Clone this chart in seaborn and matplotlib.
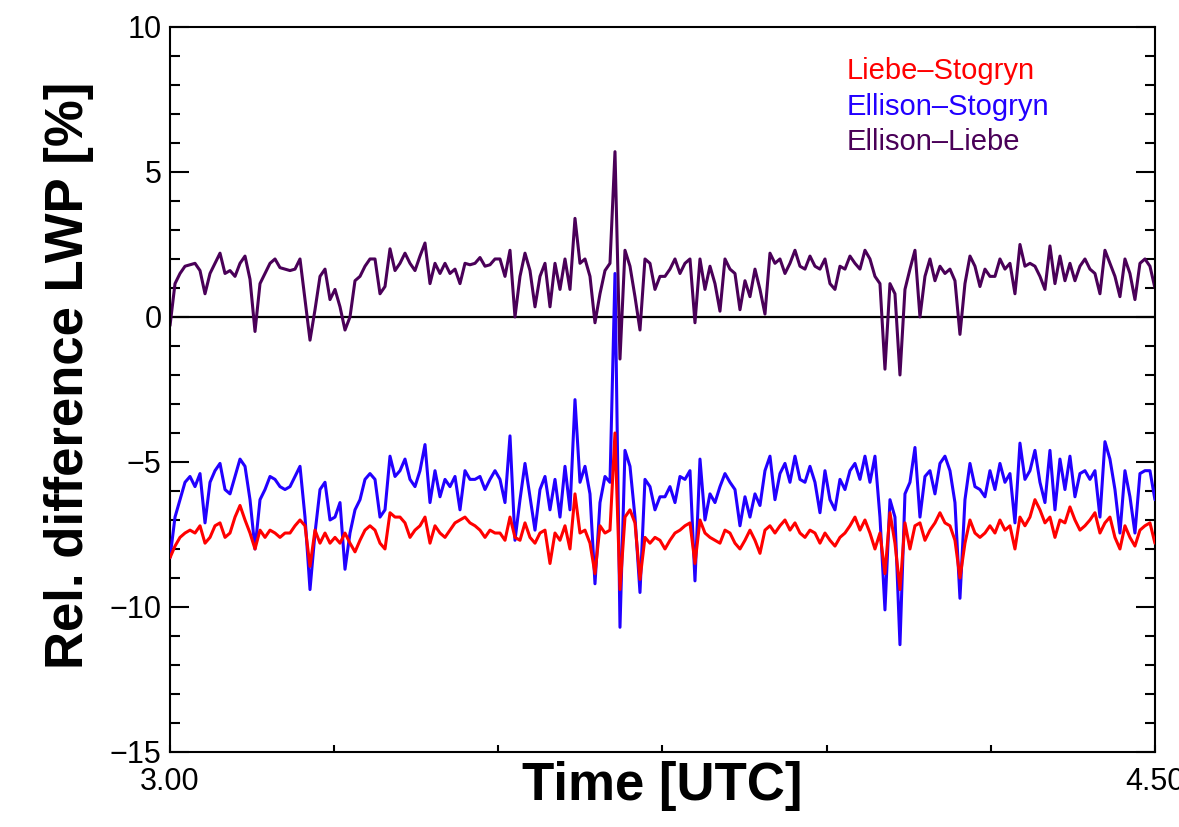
import matplotlib
matplotlib.use("Agg")
import matplotlib.pyplot as plt
import seaborn as sns
import pandas as pd
import numpy as np
from matplotlib.ticker import MultipleLocator

# Relative LWP differences, one value every ~0.0076 h
time = np.linspace(3.0, 4.5, 198)

ellison_liebe = [
    -0.3, 1.15, 1.5, 1.75, 1.8, 1.85, 1.6, 0.8, 1.5, 1.85, 2.2, 1.5, 1.6, 1.4, 1.85, 2.1, 1.3,
    -0.5, 1.15, 1.5, 1.85, 2.0, 1.7, 1.65, 1.6, 1.65, 2.0, 0.6, -0.8, 0.25, 1.4, 1.65, 0.6,
    0.95, 0.35, -0.45, 0.0, 1.25, 1.4, 1.75, 2.0, 2.0, 0.8, 1.05, 2.35, 1.6, 1.85, 2.2, 1.85,
    1.6, 2.1, 2.55, 1.15, 1.85, 1.5, 1.85, 1.5, 1.65, 1.15, 1.85, 1.8, 1.85, 2.05, 1.75, 1.8, 2.0,
    2.0, 1.4, 2.3, 0.0, 1.4, 2.2, 1.6, 0.35, 1.4, 1.85, 0.35, 1.85, 0.95, 2.0, 0.95, 3.4, 1.85,
    2.0, 1.4, -0.2, 0.8, 1.6, 1.85, 5.7, -1.45, 2.3, 1.75, 0.7, -0.45, 2.0, 1.85, 0.95, 1.4,
    1.4, 1.65, 2.0, 1.5, 1.85, 2.0, -0.2, 2.0, 0.95, 1.75, 1.15, 0.2, 2.0, 1.65, 1.5, 0.25, 1.25,
    0.7, 1.65, 0.95, 0.1, 2.2, 1.85, 2.0, 1.5, 1.85, 2.3, 1.75, 1.65, 2.1, 1.75, 1.65, 2.0,
    1.15, 0.95, 1.75, 1.65, 2.1, 1.85, 1.65, 2.3, 2.0, 1.4, 1.15, -1.8, 1.15, 0.8, -2.0, 0.95, 1.65,
    2.3, 0.0, 1.4, 2.0, 1.25, 1.75, 1.5, 1.65, 1.25, -0.6, 1.15, 2.1, 1.75, 1.05, 1.65, 1.4,
    1.4, 2.0, 1.65, 1.85, 0.8, 2.5, 1.75, 1.85, 1.75, 1.4, 0.95, 2.45, 1.15, 2.1, 1.25, 1.85, 1.25,
    1.75, 2.0, 1.65, 1.5, 0.8, 2.3, 1.85, 1.4, 0.7, 2.0, 1.5, 0.6, 1.85, 2.0, 1.75, 1.0,
]

ellison_stogryn = [
    -8.3, -6.9, -6.3, -5.7, -5.5, -5.85, -5.4, -7.1, -5.7, -5.3, -5.05, -5.95, -6.1, -5.5, -4.9, -5.15, -6.3,
    -8.0, -6.3, -5.95, -5.5, -5.6, -5.85, -5.95, -5.85, -5.5, -5.15, -6.9, -9.4, -7.45, -5.95, -5.7, -7.0,
    -6.9, -6.4, -8.7, -7.45, -6.65, -6.3, -5.6, -5.4, -5.6, -6.9, -6.65, -4.8, -5.5, -5.3, -4.9, -5.6, -5.85,
    -5.3, -4.4, -6.4, -5.3, -6.2, -5.6, -5.85, -5.5, -6.65, -5.3, -5.6, -5.6, -5.5, -5.95, -5.6, -5.3,
    -5.6, -6.4, -4.1, -7.7, -6.3, -5.05, -6.2, -7.35, -5.95, -5.5, -6.65, -5.6, -6.9, -5.15, -6.65, -2.85, -5.7,
    -5.15, -6.1, -9.2, -6.4, -5.5, -5.7, 1.5, -10.7, -4.6, -5.15, -6.9, -9.5, -5.6, -5.85, -6.65, -6.2,
    -6.2, -5.85, -6.4, -5.5, -5.6, -5.3, -9.1, -4.9, -7.0, -6.1, -6.4, -5.85, -5.4, -5.7, -5.95, -7.2, -6.2,
    -6.9, -6.1, -6.5, -5.3, -4.8, -6.3, -5.4, -5.05, -5.7, -4.8, -5.6, -5.7, -5.15, -5.7, -6.75, -5.3,
    -6.3, -6.65, -5.6, -5.95, -5.3, -5.05, -5.6, -4.8, -5.7, -4.8, -6.9, -10.1, -6.3, -6.9, -11.3, -6.1, -5.7,
    -4.5, -6.9, -5.5, -5.3, -6.1, -5.05, -4.8, -5.3, -6.4, -9.7, -6.3, -5.05, -5.85, -5.95, -6.2, -5.3,
    -5.95, -5.05, -5.7, -5.4, -7.1, -4.35, -5.6, -5.3, -4.6, -5.7, -6.4, -4.6, -6.65, -4.9, -5.95, -4.8, -6.2,
    -5.4, -5.3, -5.6, -5.3, -6.9, -4.3, -4.9, -5.95, -7.45, -5.3, -6.2, -7.45, -5.4, -5.3, -5.3, -6.3,
]

liebe_stogryn = [
    -8.3, -7.9, -7.6, -7.45, -7.35, -7.45, -7.2, -7.8, -7.6, -7.2, -7.1, -7.6, -7.45, -6.9, -6.5, -7.0, -7.45,
    -8.0, -7.35, -7.6, -7.35, -7.45, -7.6, -7.45, -7.45, -7.2, -7.0, -7.2, -8.6, -7.35, -7.8, -7.45, -7.8,
    -7.6, -7.8, -7.45, -7.8, -8.1, -7.7, -7.35, -7.2, -7.35, -7.8, -8.0, -6.75, -6.9, -6.9, -7.1, -7.6, -7.35,
    -7.2, -6.9, -7.8, -7.2, -7.45, -7.6, -7.35, -7.1, -7.0, -6.9, -7.1, -7.2, -7.35, -7.6, -7.35, -7.45,
    -7.45, -7.7, -6.9, -7.6, -7.7, -7.1, -7.6, -7.8, -7.45, -7.35, -8.5, -7.45, -7.7, -7.2, -8.0, -6.1, -7.45,
    -7.35, -7.8, -8.85, -7.2, -7.45, -7.35, -4.0, -9.4, -6.9, -6.65, -7.1, -9.05, -7.6, -7.8, -7.6, -7.7,
    -8.0, -7.7, -7.45, -7.35, -7.2, -7.1, -8.5, -7.0, -7.45, -7.6, -7.7, -7.8, -7.35, -7.45, -7.8, -8.0, -7.7,
    -7.35, -7.7, -8.15, -7.35, -7.2, -7.45, -7.2, -7.0, -7.35, -7.1, -7.45, -7.6, -7.35, -7.45, -7.8, -7.45,
    -7.7, -7.9, -7.6, -7.45, -7.2, -6.9, -7.35, -7.0, -7.45, -8.0, -7.45, -8.85, -6.75, -7.8, -9.4, -7.1, -8.0,
    -7.2, -7.1, -7.7, -7.35, -7.1, -6.75, -7.1, -7.2, -7.7, -9.0, -7.8, -7.0, -7.45, -7.6, -7.45, -7.2,
    -7.45, -7.0, -7.35, -7.2, -8.0, -6.9, -7.2, -6.9, -6.3, -6.65, -7.1, -6.9, -7.6, -7.0, -7.1, -6.55, -7.0,
    -7.35, -7.2, -7.0, -6.75, -7.45, -7.1, -6.9, -7.6, -8.0, -7.2, -7.6, -7.9, -7.35, -7.2, -7.1, -7.8,
]

labels = ['Liebe\u2013Stogryn', 'Ellison\u2013Stogryn', 'Ellison\u2013Liebe']
colors = ['#ff0000', '#2200ff', '#4a0058']

sns.set_style("ticks")
plt.rcParams['font.family'] = ['Liberation Sans', 'DejaVu Sans']
plt.rcParams.update({'text.color': 'black', 'axes.labelcolor': 'black',
                     'xtick.color': 'black', 'ytick.color': 'black',
                     'axes.edgecolor': 'black'})

fig = plt.figure(figsize=(11.79, 8.27), dpi=100)
ax = fig.add_axes([0.1442, 0.0907, 0.8354, 0.8767])

ax.axhline(0, color='black', lw=1.6, zorder=1)
sns.lineplot(x=time, y=ellison_liebe, color=colors[2], lw=2.2, ax=ax, zorder=2)
sns.lineplot(x=time, y=ellison_stogryn, color=colors[1], lw=2.2, ax=ax, zorder=3)
sns.lineplot(x=time, y=liebe_stogryn, color=colors[0], lw=2.2, ax=ax, zorder=4)

ax.set_xlim(3.0, 4.5)
ax.set_ylim(-15, 10)
ax.set_xticks(np.linspace(3.0, 4.5, 7))
ax.set_xticklabels(['3.00', '', '', '', '', '', '4.50'])
ax.yaxis.set_major_locator(MultipleLocator(5))
ax.yaxis.set_minor_locator(MultipleLocator(1))

ax.tick_params(axis='y', which='major', direction='in', length=14, width=1.5,
               right=True, labelsize=22, pad=6)
ax.tick_params(axis='y', which='minor', direction='in', length=7, width=1.5, right=True)
ax.tick_params(axis='x', direction='in', length=5, width=1.5, labelsize=22, pad=11)
for s in ax.spines.values():
    s.set_linewidth(1.5)

ax.set_xlabel('Time [UTC]', fontsize=38, fontweight='bold')
ax.set_ylabel('Rel. difference LWP [%]', fontsize=38, fontweight='bold')
ax.xaxis.set_label_coords(0.5, -0.012)
ax.yaxis.set_label_coords(-0.077, 0.52)

# colored text legend
for lab, col, yy in zip(labels, colors, [0.928, 0.879, 0.830]):
    ax.text(0.687, yy, lab, color=col, fontsize=21, transform=ax.transAxes, va='baseline')

fig.savefig('out.png', dpi=100)
